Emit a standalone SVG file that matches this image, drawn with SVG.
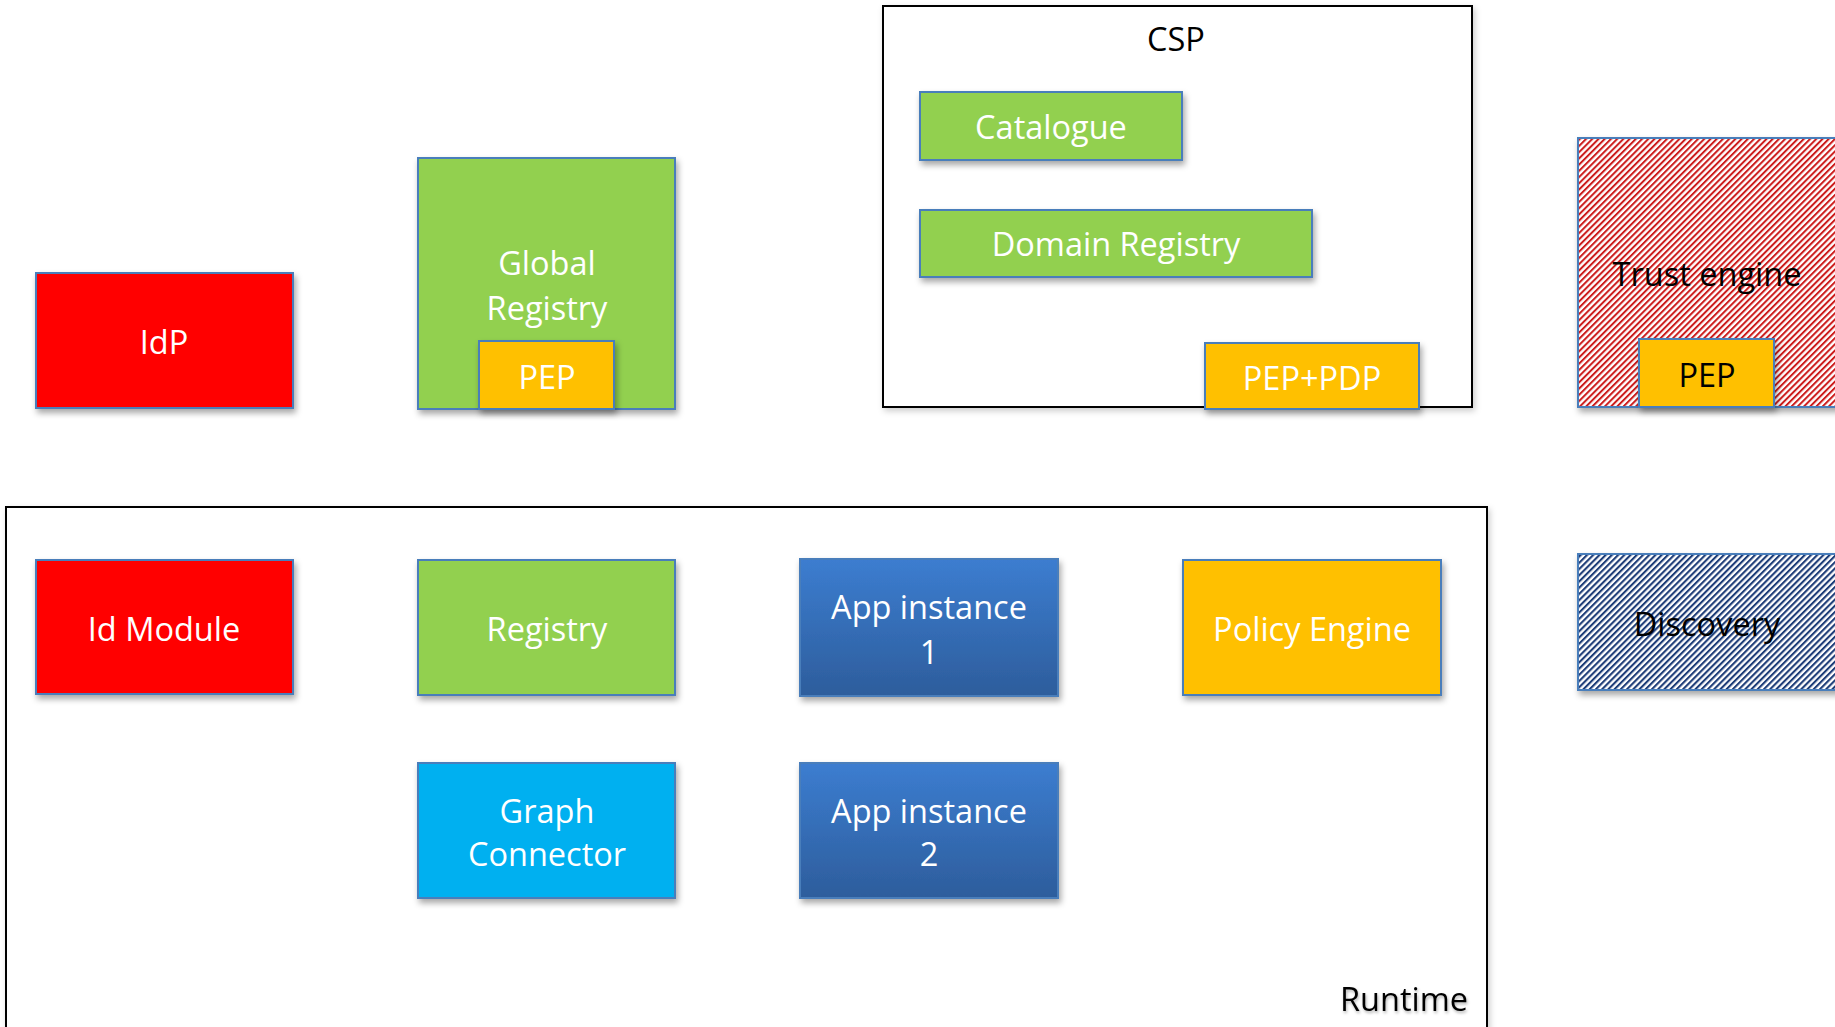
<svg xmlns="http://www.w3.org/2000/svg" width="1835" height="1027" viewBox="0 0 1835 1027">
<style>
  .box{stroke:#4A7EBB;stroke-width:2;filter:url(#sh)}
  .cont{fill:#fff;stroke:#000;stroke-width:2;filter:url(#shc)}
  .t{font-family:"Open Sans","Noto Sans",sans-serif;font-size:32.5px;text-anchor:middle;dominant-baseline:central;fill:#fff}
  .k{fill:#000}
</style>
<defs>
  <filter id="sh" x="-10%" y="-10%" width="125%" height="130%">
    <feDropShadow dx="2" dy="4" stdDeviation="3" flood-color="#000" flood-opacity="0.35"/>
  </filter>
  <filter id="shc" x="-5%" y="-5%" width="110%" height="115%">
    <feDropShadow dx="2" dy="3" stdDeviation="3" flood-color="#000" flood-opacity="0.2"/>
  </filter>
  <filter id="tsh" x="-10%" y="-20%" width="120%" height="150%">
    <feDropShadow dx="1" dy="2" stdDeviation="1.5" flood-color="#000" flood-opacity="0.3"/>
  </filter>
  <linearGradient id="blue" x1="0" y1="0" x2="0" y2="1">
    <stop offset="0" stop-color="#3C7DD0"/>
    <stop offset="1" stop-color="#2D5D9C"/>
  </linearGradient>
  <pattern id="hred" width="4.4" height="4.4" patternUnits="userSpaceOnUse" patternTransform="rotate(45)">
    <rect width="4.4" height="4.4" fill="#fff"/>
    <rect width="2" height="4.4" fill="#CC1A1A"/>
  </pattern>
  <pattern id="hblue" width="4.4" height="4.4" patternUnits="userSpaceOnUse" patternTransform="rotate(45)">
    <rect width="4.4" height="4.4" fill="#fff"/>
    <rect width="2.1" height="4.4" fill="#1F3C78"/>
  </pattern>
</defs>

<g id="connectors"></g>

<g id="runtime">
  <rect class="cont" x="6" y="507" width="1481" height="540"/>
  <text class="t k" x="1404" y="998" style="filter:url(#tsh)">Runtime</text>
</g>

<g id="csp">
  <rect class="cont" x="883" y="6" width="589" height="401"/>
  <text class="t k" x="1176" y="38">CSP</text>
</g>

<g id="idp">
  <rect class="box" x="36" y="273" width="257" height="135" fill="#FF0000"/>
  <text class="t" x="164" y="341">IdP</text>
</g>

<g id="global-registry">
  <rect class="box" x="418" y="158" width="257" height="251" fill="#92D050"/>
  <text class="t" x="547" y="262">Global</text>
  <text class="t" x="547" y="307">Registry</text>
</g>
<g id="pep-global">
  <rect class="box" x="479" y="341" width="135" height="68" fill="#FFC000"/>
  <text class="t" x="547" y="376">PEP</text>
</g>

<g id="catalogue">
  <rect class="box" x="920" y="92" width="262" height="68" fill="#92D050"/>
  <text class="t" x="1051" y="126">Catalogue</text>
</g>
<g id="domain-registry">
  <rect class="box" x="920" y="210" width="392" height="67" fill="#92D050"/>
  <text class="t" x="1116" y="243">Domain Registry</text>
</g>
<g id="pep-pdp">
  <rect class="box" x="1205" y="343" width="214" height="66" fill="#FFC000"/>
  <text class="t" x="1312" y="377">PEP+PDP</text>
</g>

<g id="trust-engine">
  <rect x="1578" y="138" width="270" height="269" fill="url(#hred)" stroke="#4A7EBB" stroke-width="2" filter="url(#sh)"/>
  <text class="t k" x="1707" y="273">Trust engine</text>
</g>
<g id="pep-trust">
  <rect class="box" x="1639" y="339" width="135" height="68" fill="#FFC000"/>
  <text class="t k" x="1707" y="374">PEP</text>
</g>

<g id="id-module">
  <rect class="box" x="36" y="560" width="257" height="134" fill="#FF0000"/>
  <text class="t" x="164" y="628">Id Module</text>
</g>
<g id="registry">
  <rect class="box" x="418" y="560" width="257" height="135" fill="#92D050"/>
  <text class="t" x="547" y="628">Registry</text>
</g>
<g id="app1">
  <rect class="box" x="800" y="559" width="258" height="137" fill="url(#blue)"/>
  <text class="t" x="929" y="606">App instance</text>
  <text class="t" x="929" y="651">1</text>
</g>
<g id="policy-engine">
  <rect class="box" x="1183" y="560" width="258" height="135" fill="#FFC000"/>
  <text class="t" x="1312" y="628">Policy Engine</text>
</g>
<g id="discovery">
  <rect x="1578" y="554" width="270" height="136" fill="url(#hblue)" stroke="#4A7EBB" stroke-width="2" filter="url(#sh)"/>
  <text class="t k" x="1707" y="623">Discovery</text>
</g>
<g id="graph-connector">
  <rect class="box" x="418" y="763" width="257" height="135" fill="#00B0F0"/>
  <text class="t" x="547" y="810">Graph</text>
  <text class="t" x="547" y="853">Connector</text>
</g>
<g id="app2">
  <rect class="box" x="800" y="763" width="258" height="135" fill="url(#blue)"/>
  <text class="t" x="929" y="810">App instance</text>
  <text class="t" x="929" y="853">2</text>
</g>
</svg>
